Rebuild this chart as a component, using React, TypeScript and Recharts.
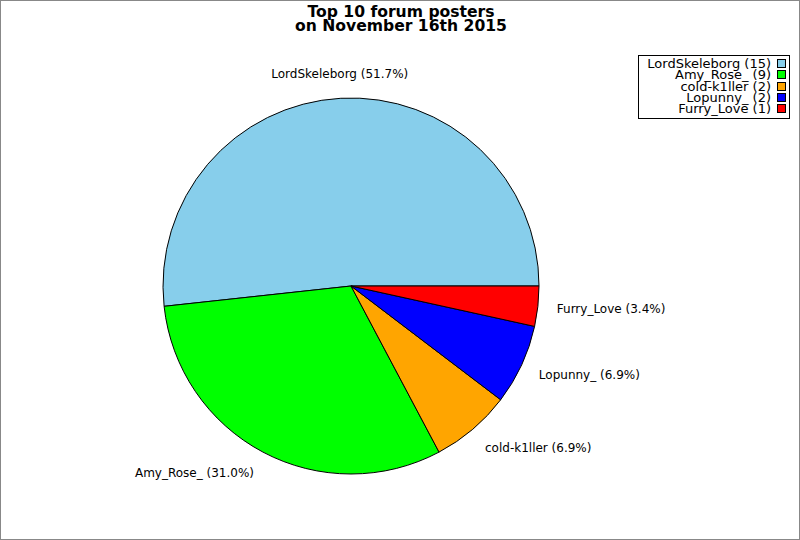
import React from "react"
import { PieChart, Pie, Cell, Legend } from "recharts"

const names = ["LordSkeleborg", "Amy_Rose_", "cold-k1ller", "Lopunny_", "Furry_Love"]
const posts = [15, 9, 2, 2, 1]
const colors = ["#87ceeb", "#00ff00", "#ffa500", "#0000ff", "#ff0000"]

const FONT = "'DejaVu Sans', sans-serif"
const RAD = Math.PI / 180

const data = names.map((n, i) => ({ name: n, value: posts[i] }))

function renderLabel(props: any) {
  const { cx, cy, midAngle, percent, name } = props
  const r = 207
  const cos = Math.cos(midAngle * RAD)
  const sin = Math.sin(midAngle * RAD)
  const x = cx + r * cos
  const y = cy - r * sin - 5 * sin
  const anchor = cos > 0.2 ? "start" : cos < -0.2 ? "end" : "middle"
  return (
    <text x={x} y={y} textAnchor={anchor} dominantBaseline="central" fontFamily={FONT} fontSize={12} fill="#000">
      {`${name} (${(percent * 100).toFixed(1)}%)`}
    </text>
  )
}

function LegendBox() {
  return (
    <div style={{ border: "1px solid #000", width: 152, height: 64, boxSizing: "border-box", background: "#fff", padding: "2px 0 0 0", fontFamily: FONT, fontSize: 13 }}>
      {data.map((d, i) => (
        <div key={d.name} style={{ display: "flex", justifyContent: "flex-end", alignItems: "center", height: 11.25, lineHeight: "11px", paddingRight: 3 }}>
          <span style={{ whiteSpace: "pre" }}>{`${d.name} (${d.value})`}</span>
          <span style={{ display: "inline-block", width: 7, height: 7, background: colors[i], border: "1px solid #000", marginLeft: 6 }} />
        </div>
      ))}
    </div>
  )
}

export default function App() {
  return (
    <div style={{ position: "absolute", left: 0, top: 0, width: 800, height: 540, border: "1px solid #888", boxSizing: "border-box", background: "#fff" }}>
      <div style={{ position: "absolute", left: 0, top: 4, width: 800, textAlign: "center", fontFamily: FONT, fontWeight: "bold", fontSize: 15.6, lineHeight: "14px", color: "#000" }}>
        Top 10 forum posters<br />on November 16th 2015
      </div>
      <div style={{ position: "absolute", left: -1, top: -1 }}>
        <PieChart width={800} height={540} margin={{ top: 0, right: 0, bottom: 0, left: 0 }}>
          <Pie
            data={data}
            dataKey="value"
            nameKey="name"
            cx={351}
            cy={286}
            outerRadius={188}
            startAngle={0}
            endAngle={360}
            stroke="#000"
            strokeWidth={1}
            label={renderLabel}
            labelLine={false}
            isAnimationActive={false}
          >
            {data.map((d, i) => (
              <Cell key={d.name} fill={colors[i]} />
            ))}
          </Pie>
          <Legend content={() => <LegendBox />} wrapperStyle={{ position: "absolute", left: 638, top: 55, width: 152 }} />
        </PieChart>
      </div>
    </div>
  )
}
